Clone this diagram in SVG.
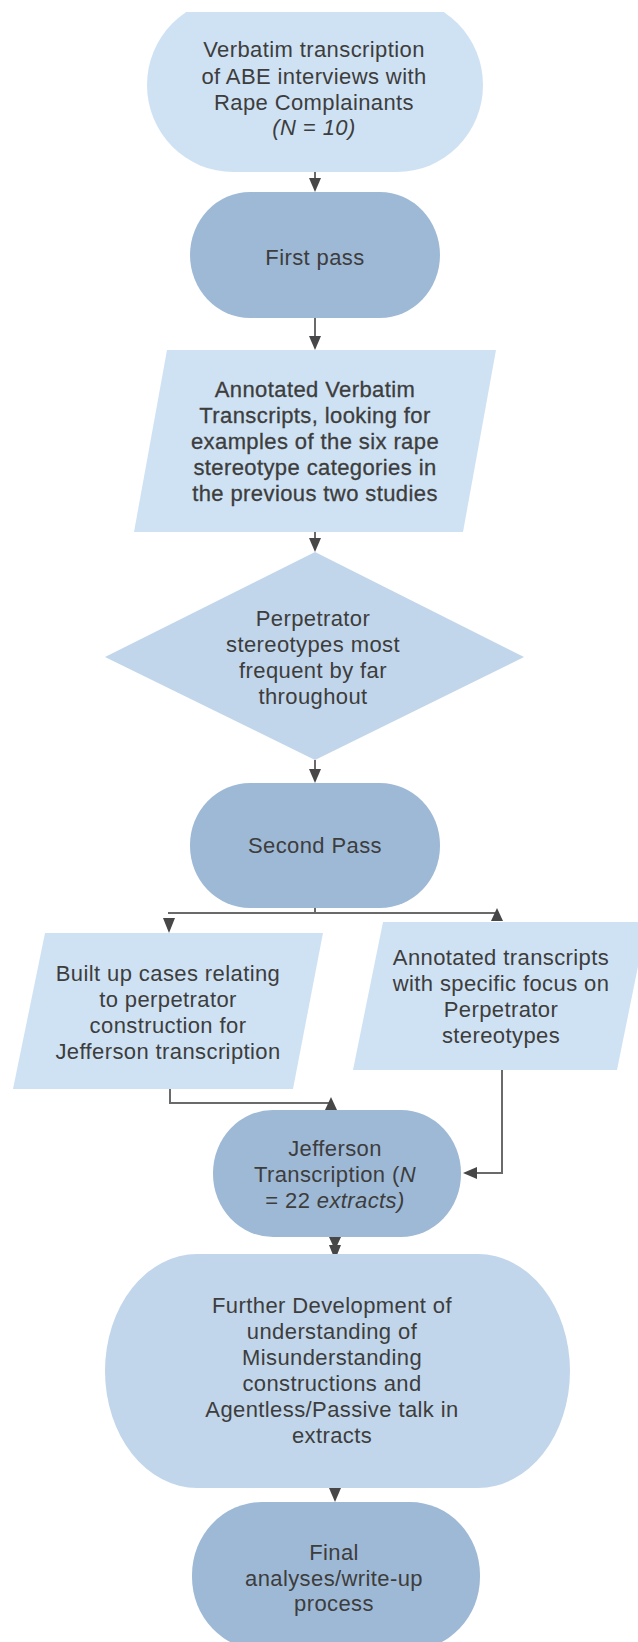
<svg xmlns="http://www.w3.org/2000/svg" width="638" height="1642" viewBox="0 0 638 1642">
<defs>
<clipPath id="clipTop"><rect x="0" y="12" width="638" height="300"/></clipPath>
</defs>
<style>
.light{fill:#cfe2f3}
.mid{fill:#c1d6ea}
.dark{fill:#9eb9d6}
text{font-family:"Liberation Sans",Arial,sans-serif;font-size:22px;letter-spacing:0.4px;fill:#3d3d3d;text-anchor:middle}
.it{font-style:italic}
.heavy{stroke:#3d3d3d;stroke-width:0.3}
.ln{fill:none;stroke:#6a6a6a;stroke-width:2}
.ah{fill:#474747}
</style>
<rect width="638" height="1642" fill="#ffffff"/>
<g id="connectors">
<line class="ln" x1="315" y1="170" x2="315" y2="180"/>
<polygon class="ah" points="309,178 321,178 315,192"/>
<line class="ln" x1="315" y1="318" x2="315" y2="338"/>
<polygon class="ah" points="309,336 321,336 315,350"/>
<line class="ln" x1="315" y1="532" x2="315" y2="540"/>
<polygon class="ah" points="309,538 321,538 315,552"/>
<line class="ln" x1="315" y1="760" x2="315" y2="771"/>
<polygon class="ah" points="309,769 321,769 315,783"/>
<line class="ln" x1="315" y1="908" x2="315" y2="913"/>
<line class="ln" x1="168" y1="913" x2="497" y2="913"/>
<polygon class="ah" points="163,918 175,918 169,933"/>
<polygon class="ah" points="491,921 503,921 497,908"/>
<polyline class="ln" points="170,1089 170,1103 330,1103"/>
<polygon class="ah" points="325,1110 337,1110 331,1097"/>
<polyline class="ln" points="502,1070 502,1173 470,1173"/>
<polygon class="ah" points="477,1167 477,1179 463,1173"/>
<line class="ln" x1="335" y1="1215" x2="335" y2="1246"/>
<polygon class="ah" points="329,1237 341,1237 335,1250"/>
<polygon class="ah" points="329,1245 341,1245 335,1260"/>
<polygon class="ah" points="329,1488 341,1488 335,1502"/>
</g>
<g id="n1">
<rect class="light" x="147" y="-2" width="336" height="174" rx="86" ry="87" clip-path="url(#clipTop)"/>
<text x="314" y="57">Verbatim transcription</text>
<text x="314" y="84">of ABE interviews with</text>
<text x="314" y="110">Rape Complainants</text>
<text x="314" y="135" class="it">(N = 10)</text>
</g>
<g id="n2">
<rect class="dark" x="190" y="192" width="250" height="126" rx="60" ry="63"/>
<text x="315" y="265">First pass</text>
</g>
<g id="n3">
<polygon class="light" points="167,350 496,350 463,532 134,532"/>
<text class="heavy" x="315" y="397">Annotated Verbatim</text>
<text class="heavy" x="315" y="423">Transcripts, looking for</text>
<text class="heavy" x="315" y="449">examples of the six rape</text>
<text class="heavy" x="315" y="475">stereotype categories in</text>
<text class="heavy" x="315" y="501">the previous two studies</text>
</g>
<g id="n4">
<polygon class="mid" points="315,552 524,657 315,760 105,657"/>
<text x="313" y="626">Perpetrator</text>
<text x="313" y="652">stereotypes most</text>
<text x="313" y="678">frequent by far</text>
<text x="313" y="704">throughout</text>
</g>
<g id="n5">
<rect class="dark" x="190" y="783" width="250" height="125" rx="60" ry="62"/>
<text x="315" y="853">Second Pass</text>
</g>
<g id="n6">
<polygon class="light" points="45,933 323,933 293,1089 13,1089"/>
<text x="168" y="981">Built up cases relating</text>
<text x="168" y="1007">to perpetrator</text>
<text x="168" y="1033">construction for</text>
<text x="168" y="1059">Jefferson transcription</text>
</g>
<g id="n7">
<polygon class="light" points="383,922 647,922 617,1070 353,1070"/>
<text x="501" y="965">Annotated transcripts</text>
<text x="501" y="991">with specific focus on</text>
<text x="501" y="1017">Perpetrator</text>
<text x="501" y="1043">stereotypes</text>
</g>
<g id="n8">
<rect class="dark" x="213" y="1110" width="248" height="127" rx="60" ry="63"/>
<text x="335" y="1156">Jefferson</text>
<text x="335" y="1182">Transcription (<tspan class="it">N</tspan></text>
<text x="335" y="1208">= 22 <tspan class="it">extracts)</tspan></text>
</g>
<g id="n9">
<rect class="mid" x="105" y="1254" width="465" height="234" rx="92" ry="117"/>
<text x="332" y="1313">Further Development of</text>
<text x="332" y="1339">understanding of</text>
<text x="332" y="1365">Misunderstanding</text>
<text x="332" y="1391">constructions and</text>
<text x="332" y="1417">Agentless/Passive talk in</text>
<text x="332" y="1443">extracts</text>
</g>
<g id="n10">
<rect class="dark" x="192" y="1502" width="288" height="148" rx="70" ry="73"/>
<text x="334" y="1560">Final</text>
<text x="334" y="1586">analyses/write-up</text>
<text x="334" y="1611">process</text>
</g>
</svg>
